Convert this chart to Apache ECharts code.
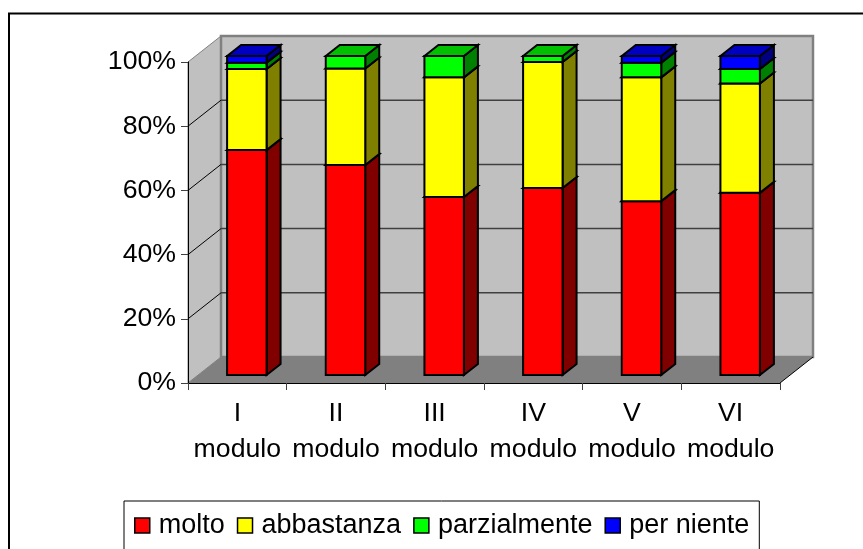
<!DOCTYPE html>
<html>
<head>
<meta charset="utf-8">
<style>html,body{margin:0;padding:0;background:#fff;overflow:hidden}#c{width:863px;height:549px}</style>
<script src="https://cdn.jsdelivr.net/npm/echarts@6/dist/echarts.min.js"></script>
</head>
<body>
<div id="c"></div>
<script>
const categories = ['I\nmodulo', 'II\nmodulo', 'III\nmodulo', 'IV\nmodulo', 'V\nmodulo', 'VI\nmodulo'];
const molto = [70.5, 65.8, 55.8, 58.6, 54.5, 57.1];
const abbastanza = [25.4, 30.3, 37.5, 39.5, 38.8, 34.3];
const parzialmente = [2.0, 3.9, 6.7, 1.9, 4.6, 4.5];
const perNiente = [2.1, 0, 0, 0, 2.1, 4.1];
const yTicks = [20, 40, 60, 80];
const seriesNames = ['molto', 'abbastanza', 'parzialmente', 'per niente'];
const seriesValues = [molto, abbastanza, parzialmente, perNiente];
const frontColors = ['#ff0000', '#ffff00', '#00ff00', '#0000ff'];
const sideColors = ['#800000', '#808000', '#008000', '#000080'];
const topColors = ['#c00000', '#c0c000', '#00c000', '#0000c0'];

const FONT = '"Liberation Sans", Arial, sans-serif';
const WALL = [33, -26];     // depth offset of the back wall
const DEPTH = [14, -11];    // depth of one bar
const BAR_DX = 9.5;         // shift of the bars' front face from the axis plane
const BAR_Y0 = 375;         // pixel of the bars' baseline
const BAR_YK = 319 / 321;   // vertical scale of the bars' plane

function poly(points, fill, stroke, lineWidth) {
  return { type: 'polygon', shape: { points }, style: { fill, stroke: stroke || null, lineWidth: lineWidth || 0 }, silent: true };
}

function renderWalls(params) {
  const r = params.coordSys;
  const L = r.x, R = r.x + r.width, T = r.y, B = r.y + r.height;
  const dx = WALL[0], dy = WALL[1];
  return { type: 'group', children: [
    poly([[L, B], [L + dx, B + dy], [L + dx, T + dy], [L, T]], '#c0c0c0', '#808080', 1),
    poly([[L + dx, T + dy], [R + dx, T + dy], [R + dx, B + dy], [L + dx, B + dy]], '#c0c0c0', '#808080', 2.5),
    poly([[L, B], [L + dx, B + dy], [R + dx, B + dy], [R, B]], '#808080'),
    { type: 'line', shape: { x1: R, y1: B, x2: R + dx, y2: B + dy }, style: { stroke: '#000', lineWidth: 1 }, silent: true }
  ] };
}

function renderGrid(params, api) {
  const r = params.coordSys;
  const y = api.coord([0, api.value(1)])[1];
  const L = r.x, R = r.x + r.width, dx = WALL[0], dy = WALL[1];
  return { type: 'group', children: [
    { type: 'line', shape: { x1: L, y1: y, x2: L + dx, y2: y + dy }, style: { stroke: '#000', lineWidth: 1 }, silent: true },
    { type: 'line', shape: { x1: L + dx, y1: y + dy, x2: R + dx, y2: y + dy }, style: { stroke: '#404040', lineWidth: 1.5 }, silent: true }
  ] };
}

function barRenderer(idx) {
  return function (params, api) {
    if (api.value(2) <= api.value(1)) return null;
    const c = api.coord([api.value(0), 0]);
    const c0 = c[1];
    const project = v => BAR_Y0 + (api.coord([api.value(0), v])[1] - c0) * BAR_YK;
    const band = api.size([1, 0])[0];
    const w = band * 0.4;
    const x0 = c[0] + BAR_DX - w / 2, x1 = x0 + w;
    const y0 = project(api.value(1)), y1 = project(api.value(2));
    const dx = DEPTH[0], dy = DEPTH[1];
    return { type: 'group', children: [
      poly([[x1, y0], [x1 + dx, y0 + dy], [x1 + dx, y1 + dy], [x1, y1]], sideColors[idx], '#000', 2),
      poly([[x0, y1], [x0 + dx, y1 + dy], [x1 + dx, y1 + dy], [x1, y1]], topColors[idx], '#000', 2),
      poly([[x0, y0], [x1, y0], [x1, y1], [x0, y1]], frontColors[idx], '#000', 2)
    ] };
  };
}

const barSeries = seriesNames.map((name, s) => ({
  name,
  type: 'custom',
  coordinateSystem: 'cartesian2d',
  z: 3,
  silent: true,
  itemStyle: { color: frontColors[s] },
  encode: { x: 0, y: [1, 2] },
  renderItem: barRenderer(s),
  data: categories.map((_, i) => {
    let base = 0;
    for (let k = 0; k < s; k++) base += seriesValues[k][i];
    return [i, base, base + seriesValues[s][i]];
  })
}));

const chart = echarts.init(document.getElementById('c'), null, { renderer: 'canvas' });
chart.setOption({
  animation: false,
  backgroundColor: '#fff',
  textStyle: { fontFamily: FONT },
  grid: { left: 188, top: 62, width: 592, height: 321, containLabel: false },
  graphic: [{
    type: 'rect', z: -1, silent: true,
    shape: { x: 9, y: 13.5, width: 900, height: 600 },
    style: { fill: null, stroke: '#000', lineWidth: 2 }
  }],
  xAxis: {
    type: 'category', data: categories, z: 10,
    axisLine: { show: true, lineStyle: { color: '#000', width: 1 } },
    axisTick: { show: true, alignWithLabel: false, length: 7, lineStyle: { color: '#404040' } },
    axisLabel: { color: '#000', fontSize: 26.67, fontFamily: FONT, lineHeight: 36, margin: 13, interval: 0, hideOverlap: false },
    splitLine: { show: false }
  },
  yAxis: {
    type: 'value', min: 0, max: 100, interval: 20, z: 10,
    axisLine: { show: true, lineStyle: { color: '#000', width: 1 } },
    axisTick: { show: true, length: 7, lineStyle: { color: '#404040' } },
    axisLabel: { color: '#000', fontSize: 26.67, fontFamily: FONT, margin: 12, formatter: '{value}%' },
    splitLine: { show: false }
  },
  legend: {
    left: 124, top: 501,
    orient: 'horizontal',
    padding: [11, 10, 40, 10],
    backgroundColor: '#fff',
    borderColor: '#000',
    borderWidth: 1,
    borderRadius: 0,
    itemWidth: 15, itemHeight: 15, itemGap: 12,
    icon: 'rect',
    selectedMode: false,
    textStyle: { color: '#000', fontSize: 27, fontFamily: FONT, padding: [0, 0, 0, 4] },
    data: seriesNames.map((name, s) => ({
      name, icon: 'rect',
      itemStyle: { color: frontColors[s], borderColor: '#000', borderWidth: 1.5 }
    }))
  },
  tooltip: { show: false },
  series: [
    { type: 'custom', coordinateSystem: 'cartesian2d', z: 1, silent: true, renderItem: renderWalls, data: [[0, 0]], encode: { x: 0, y: 1 } },
    { type: 'custom', coordinateSystem: 'cartesian2d', z: 2, silent: true, renderItem: renderGrid, data: yTicks.map(v => [0, v]), encode: { x: 0, y: 1 } }
  ].concat(barSeries)
});
</script>
</body>
</html>
